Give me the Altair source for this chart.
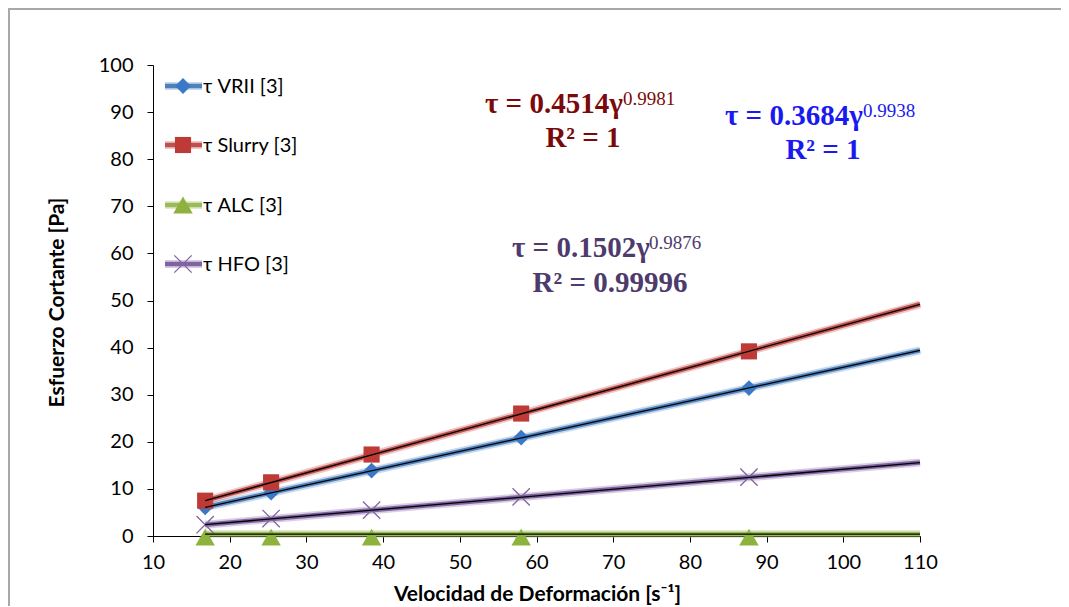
import altair as alt
import pandas as pd

# ---------------- data ----------------
shear_rate = [16.8, 25.4, 38.5, 58.0, 87.7]
series_names = ["τ VRII [3]", "τ Slurry [3]", "τ ALC [3]", "τ HFO [3]"]
tau_vrii = [6.1, 9.2, 13.9, 20.9, 31.4]
tau_slurry = [7.5, 11.4, 17.3, 26.0, 39.2]
tau_alc = [0.4, 0.4, 0.4, 0.4, 0.4]
tau_hfo = [2.4, 3.7, 5.5, 8.3, 12.5]

trend_x = [16.8, 110.0]
trend_vrii = [6.1, 39.4]
trend_slurry = [7.5, 49.2]
trend_alc = [0.4, 0.4]
trend_hfo = [2.4, 15.6]

x_ticks = [10, 20, 30, 40, 50, 60, 70, 80, 90, 100, 110]
y_ticks = [0, 10, 20, 30, 40, 50, 60, 70, 80, 90, 100]

eq_main = ["τ = 0.4514γ", "τ = 0.3684γ", "τ = 0.1502γ"]
eq_exp = ["0.9981", "0.9938", "0.9876"]
eq_r2 = ["R² = 1", "R² = 1", "R² = 0.99996"]

x_title = "Velocidad de Deformación [s⁻¹]"
y_title = "Esfuerzo Cortante [Pa]"

# ---------------- styling ----------------
W, H = 767, 471
FONT = "Lato"
SERIF = "Liberation Serif"
line_colors = ["#4F81BD", "#C0504D", "#9BBB59", "#8064A2"]
marker_colors = ["#3B78C6", "#BE3A36", "#8DB33E", "#8064A2"]
X_PATH = "M-1,-1L1,1M-1,1L1,-1"
shapes = ["diamond", "square", "triangle-up", X_PATH]
sizes = [250, 260, 380, 300]
eq_colors = ["#7A0A0A", "#1A1AF0", "#4E3B6E"]

xscale = alt.Scale(domain=[10, 110], nice=False, zero=False)
yscale = alt.Scale(domain=[0, 100], nice=False)

xaxis = alt.Axis(values=x_ticks, title=x_title, grid=False, tickSize=6,
                 labelPadding=10, labelFontSize=20, labelFont=FONT,
                 labelColor="#000", domainColor="#000", tickColor="#000",
                 titleFont=FONT, titleFontSize=21, titleFontWeight="bold",
                 titleColor="#000", titleX=384, titleY=64,
                 titleBaseline="alphabetic", labelFlush=False)
yaxis = alt.Axis(values=y_ticks, title=y_title, grid=False, tickSize=6,
                 labelPadding=14, labelFontSize=20, labelFont=FONT,
                 labelColor="#000", domainColor="#000", tickColor="#000",
                 titleFont=FONT, titleFontSize=21, titleFontWeight="bold",
                 titleColor="#000", titleX=-90, titleY=237, titleAngle=-90,
                 titleBaseline="alphabetic", labelFlush=False)

X = alt.X("x:Q", scale=xscale, axis=xaxis)
Y = alt.Y("y:Q", scale=yscale, axis=yaxis)

obs = [tau_vrii, tau_slurry, tau_alc, tau_hfo]
trends = [trend_vrii, trend_slurry, trend_alc, trend_hfo]

glow_layers, thick_layers, marker_layers, black_layers = [], [], [], []
for i in range(4):
    tdf = pd.DataFrame({"x": trend_x, "y": trends[i]})
    odf = pd.DataFrame({"x": shear_rate, "y": obs[i]})
    glow_layers.append(alt.Chart(tdf).mark_line(
        color=line_colors[i], strokeWidth=8, opacity=0.3).encode(x=X, y=Y))
    thick_layers.append(alt.Chart(tdf).mark_line(
        color=line_colors[i], strokeWidth=4.5).encode(x=X, y=Y))
    if shapes[i] == X_PATH:
        mk = alt.Chart(odf).mark_point(shape=X_PATH, size=sizes[i], filled=False,
                                       color=marker_colors[i], strokeWidth=1.3,
                                       opacity=1)
    else:
        mk = alt.Chart(odf).mark_point(shape=shapes[i], size=sizes[i], filled=True,
                                       color=marker_colors[i], opacity=1,
                                       yOffset=3 if i == 2 else 0)
    marker_layers.append(mk.encode(x=X, y=Y))
    black_layers.append(alt.Chart(tdf).mark_line(
        color="#000", strokeWidth=1.3).encode(x=X, y=Y))

# ---------------- equations ----------------
main_pos = [(332, 48), (572, 60), (359, 192)]
exp_pos = [(470, 40), (710, 52), (496, 184)]
r2_pos = [(430, 82), (670, 94), (457, 227)]
text_layers = []
for i in range(3):
    text_layers.append(alt.Chart(pd.DataFrame({"t": [eq_main[i]]})).mark_text(
        font=SERIF, fontSize=29, fontWeight="bold", color=eq_colors[i],
        align="left", baseline="alphabetic").encode(
        text="t:N", x=alt.value(main_pos[i][0]), y=alt.value(main_pos[i][1])))
    text_layers.append(alt.Chart(pd.DataFrame({"t": [eq_exp[i]]})).mark_text(
        font=SERIF, fontSize=19, color=eq_colors[i],
        align="left", baseline="alphabetic").encode(
        text="t:N", x=alt.value(exp_pos[i][0]), y=alt.value(exp_pos[i][1])))
    text_layers.append(alt.Chart(pd.DataFrame({"t": [eq_r2[i]]})).mark_text(
        font=SERIF, fontSize=29, fontWeight="bold", color=eq_colors[i],
        align="center", baseline="alphabetic").encode(
        text="t:N", x=alt.value(r2_pos[i][0]), y=alt.value(r2_pos[i][1])))

# ---------------- legend (drawn inside the plot) ----------------
leg_rows = [21, 80, 140, 199]
legend_layers = []
for i in range(4):
    base = alt.Chart(pd.DataFrame({"t": [series_names[i]]}))
    legend_layers.append(base.mark_rule(color=line_colors[i], strokeWidth=8,
                                        opacity=0.3).encode(
        x=alt.value(12), x2=alt.value(49), y=alt.value(leg_rows[i])))
    legend_layers.append(base.mark_rule(color=line_colors[i], strokeWidth=4.5).encode(
        x=alt.value(12), x2=alt.value(49), y=alt.value(leg_rows[i])))
    if shapes[i] == X_PATH:
        pm = base.mark_point(shape=X_PATH, size=sizes[i], filled=False,
                             color=marker_colors[i], strokeWidth=1.3, opacity=1)
    else:
        pm = base.mark_point(shape=shapes[i], size=sizes[i], filled=True,
                             color=marker_colors[i], opacity=1)
    legend_layers.append(pm.encode(x=alt.value(30), y=alt.value(leg_rows[i])))
    legend_layers.append(base.mark_text(font=FONT, fontSize=20, color="#000",
                                        align="left", baseline="middle").encode(
        text="t:N", x=alt.value(50), y=alt.value(leg_rows[i] + 1)))

# ---------------- outer frame (left and top edges) ----------------
fr = alt.Chart(pd.DataFrame({"a": [0]}))
frame_layers = [
    fr.mark_rect(fill="#A8A8A8").encode(
        x=alt.value(-145), x2=alt.value(-143), y=alt.value(-57), y2=alt.value(545)),
    fr.mark_rect(fill="#A8A8A8").encode(
        x=alt.value(-145), x2=alt.value(908), y=alt.value(-57), y2=alt.value(-55)),
]

chart = alt.layer(
    *frame_layers, *glow_layers, *thick_layers, *marker_layers, *black_layers,
    *text_layers, *legend_layers
).properties(
    width=W, height=H,
    autosize=alt.AutoSizeParams(type="none"),
    padding={"left": 145, "top": 57, "right": 141, "bottom": 70},
    background="white",
).configure_view(stroke=None)

chart.save("out.html", embed_options={"renderer": "svg", "actions": False})
